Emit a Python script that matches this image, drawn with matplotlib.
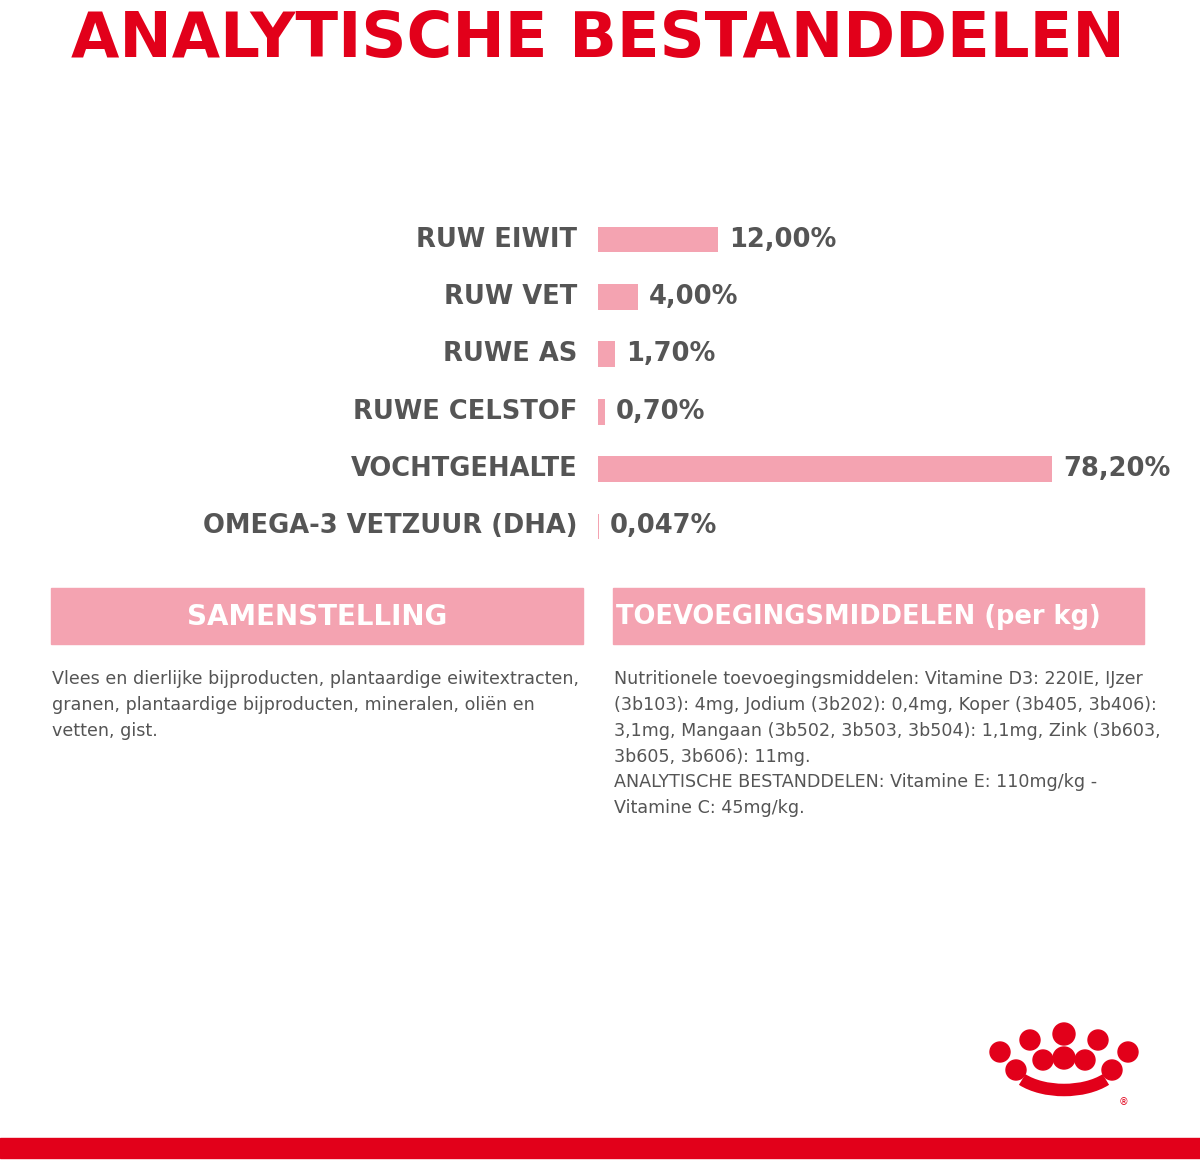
import numpy as np
import matplotlib
matplotlib.use("Agg")
import matplotlib.pyplot as plt
from matplotlib.patches import Rectangle, Circle, Arc

RED = "#E2001A"
PINK = "#F4A3B1"
GREY = "#555555"
FONT = ["DejaVu Sans"]

labels = ["RUW EIWIT", "RUW VET", "RUWE AS", "RUWE CELSTOF", "VOCHTGEHALTE", "OMEGA-3 VETZUUR (DHA)"]
values = [12.00, 4.00, 1.70, 0.70, 78.20, 0.047]
value_text = ["12,00%", "4,00%", "1,70%", "0,70%", "78,20%", "0,047%"]

samenstelling = ("Vlees en dierlijke bijproducten, plantaardige eiwitextracten,\n"
                 "granen, plantaardige bijproducten, mineralen, oliën en\n"
                 "vetten, gist.")
toevoeging = ("Nutritionele toevoegingsmiddelen: Vitamine D3: 220IE, IJzer\n"
              "(3b103): 4mg, Jodium (3b202): 0,4mg, Koper (3b405, 3b406):\n"
              "3,1mg, Mangaan (3b502, 3b503, 3b504): 1,1mg, Zink (3b603,\n"
              "3b605, 3b606): 11mg.\n"
              "ANALYTISCHE BESTANDDELEN: Vitamine E: 110mg/kg -\n"
              "Vitamine C: 45mg/kg.")

W, H = 1200, 1160
fig = plt.figure(figsize=(W / 100, H / 100), dpi=100)
bg = fig.add_axes([0, 0, 1, 1])
bg.set_xlim(0, W); bg.set_ylim(H, 0); bg.axis("off")

bg.text(598, 40, "ANALYTISCHE BESTANDDELEN", color=RED, fontsize=45, fontweight="bold",
        family=FONT, ha="center", va="center")

# bar chart: axes origin at x=598px, compressed scale beyond 20 %
def fwd(x):
    x = np.asarray(x, dtype=float)
    return np.where(x <= 20, x, 20 + (x - 20) * 0.436)

def inv(y):
    y = np.asarray(y, dtype=float)
    return np.where(y <= 20, y, 20 + (y - 20) / 0.436)

ax = fig.add_axes([598 / W, 1 - 558 / H, 600 / W, 350 / H])
ax.set_xscale("function", functions=(fwd, inv))
ax.set_xlim(0, inv(60.0))
ax.set_ylim(len(values) - 0.45, -0.55)
ax.axis("off")
ypos = np.arange(len(values))
bars = ax.barh(ypos, values, height=0.45, color=PINK)
bars[-1].set_width(0.1)
for i, (v, t, lab) in enumerate(zip(values, value_text, labels)):
    ax.annotate(t, (max(v, 0.1), i), xytext=(8, 0), textcoords="offset points",
                color=GREY, fontsize=18.5, fontweight="bold", family=FONT, va="center")
    ax.annotate(lab, (0, i), xytext=(-15, 0), textcoords="offset points", ha="right",
                color=GREY, fontsize=18.5, fontweight="bold", family=FONT, va="center")

# section headers
bg.add_patch(Rectangle((51, 588), 532, 56, color=PINK))
bg.add_patch(Rectangle((613, 588), 531, 56, color=PINK))
bg.text(317, 617, "SAMENSTELLING", color="white", fontsize=20, fontweight="bold",
        family=FONT, ha="center", va="center")
bg.text(616, 617, "TOEVOEGINGSMIDDELEN (per kg)", color="white", fontsize=18.5,
        fontweight="bold", family=FONT, ha="left", va="center")

bg.text(52, 670, samenstelling, color=GREY, fontsize=12.6, family=FONT, va="top", linespacing=1.56)
bg.text(614, 670, toevoeging, color=GREY, fontsize=12.6, family=FONT, va="top", linespacing=1.56)

# crown logo
for cx, cy, r in [(1000, 1052, 10), (1030, 1040, 10), (1064, 1034, 11), (1098, 1040, 10),
                  (1128, 1052, 10), (1016, 1070, 10), (1043, 1060, 10), (1064, 1058, 11),
                  (1085, 1060, 10), (1112, 1070, 10)]:
    bg.add_patch(Circle((cx, cy), r, color=RED))
bg.add_patch(Arc((1064, 1060), 110, 60, theta1=25, theta2=155, color=RED, lw=9))
bg.text(1123, 1102, "®", color=RED, fontsize=7, ha="center", va="center")

bg.add_patch(Rectangle((0, 1138), W, 20, color=RED))

fig.savefig("out.png", dpi=100)
